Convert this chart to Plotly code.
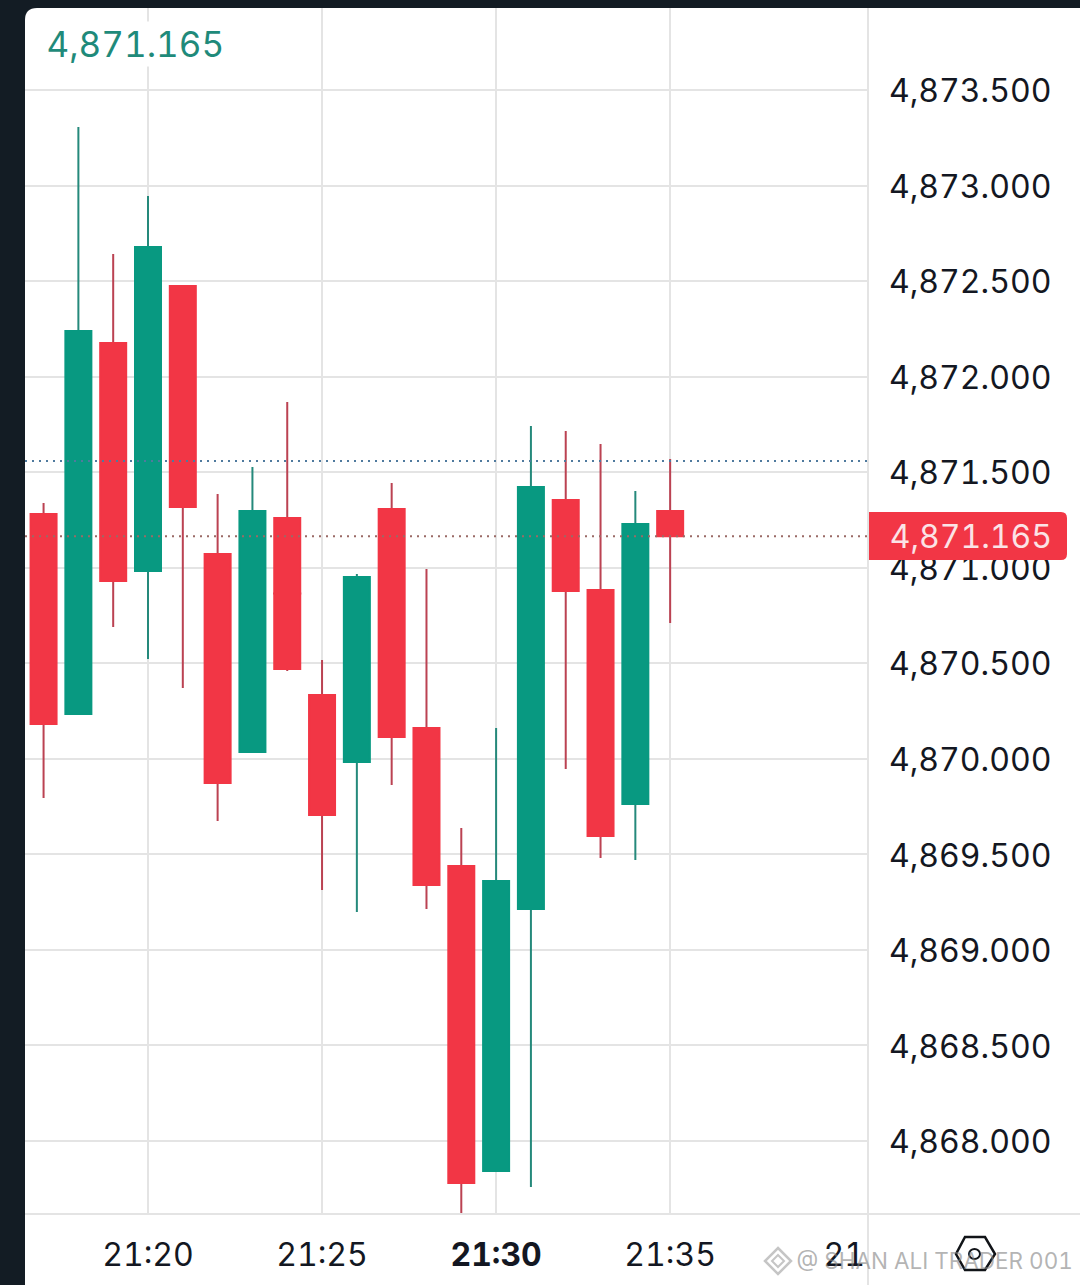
import plotly.graph_objects as go

times = ["21:17","21:18","21:19","21:20","21:21","21:22","21:23","21:24","21:25","21:26",
         "21:27","21:28","21:29","21:30","21:31","21:32","21:33","21:34","21:35"]
opens = [4871.281,4870.234,4872.176,4870.983,4872.474,4871.072,4870.036,4871.260,4870.334,4869.983,
         4871.307,4870.161,4869.439,4867.843,4869.214,4871.354,4870.883,4869.763,4871.297]
closes = [4870.182,4872.239,4870.930,4872.678,4871.318,4869.873,4871.297,4870.470,4869.706,4870.951,
          4870.114,4869.340,4867.780,4869.361,4871.422,4870.878,4869.596,4871.229,4871.165]
highs = [4871.339,4873.306,4872.642,4872.945,4872.474,4871.386,4871.527,4871.867,4870.517,4870.967,
         4871.443,4870.993,4869.638,4870.161,4871.742,4871.715,4871.647,4871.401,4871.569]
lows = [4869.795,4870.234,4870.690,4870.522,4870.370,4869.675,4870.036,4870.459,4869.313,4869.198,
        4869.863,4869.214,4867.623,4867.843,4867.759,4869.947,4869.481,4869.470,4870.711]
y_ticks = [4868.0,4868.5,4869.0,4869.5,4870.0,4870.5,4871.0,4871.5,4872.0,4872.5,4873.0,4873.5]
y_labels = ["4,868.000","4,868.500","4,869.000","4,869.500","4,870.000","4,870.500","4,871.000",
            "4,871.500","4,872.000","4,872.500","4,873.000","4,873.500"]
x_ticks = ["21:20","21:25","21:30","21:35"]
x_labels = ["21:20","21:25","<b>21:30</b>","21:35"]
last_price = 4871.165
prev_price = 4871.558

W, H = 1080, 1285
UP, DOWN = "#089981", "#f23645"
UP_WICK, DOWN_WICK = "#25897b", "#bb4252"
GRID = "#e4e4e4"
DARK = "#131c24"
FONT = "Inter, Roboto, sans-serif"

def d(t):
    return "2024-01-01 " + t + ":00"
def px(x):
    return x / W
def py(y):
    return 1 - y / H
def path(points, close=True):
    s = " ".join(("M" if i == 0 else "L") + f" {px(x):.5f},{py(y):.5f}" for i, (x, y) in enumerate(points))
    return s + (" Z" if close else "")

xs = [d(t) for t in times]
fig = go.Figure()
# wicks
fig.add_trace(go.Candlestick(
    x=xs, open=[(o + c) / 2 for o, c in zip(opens, closes)], close=[(o + c) / 2 + (1e-6 if c >= o else -1e-6) for o, c in zip(opens, closes)],
    high=highs, low=lows, whiskerwidth=0,
    increasing=dict(line=dict(color=UP_WICK, width=2), fillcolor=UP_WICK),
    decreasing=dict(line=dict(color=DOWN_WICK, width=2), fillcolor=DOWN_WICK),
    hoverinfo="skip", showlegend=False))
# bodies
fig.add_trace(go.Candlestick(
    x=xs, open=opens, close=closes,
    high=[max(o, c) for o, c in zip(opens, closes)], low=[min(o, c) for o, c in zip(opens, closes)],
    whiskerwidth=0,
    increasing=dict(line=dict(color=UP, width=2), fillcolor=UP),
    decreasing=dict(line=dict(color=DOWN, width=2), fillcolor=DOWN),
    showlegend=False))

DOT = "2px,5px"
shapes = [
    dict(type="path", xref="paper", yref="paper", layer="below", line=dict(width=0), fillcolor="#ffffff",
         path=f"M {px(25):.5f},{py(1285):.5f} L {px(25):.5f},{py(20):.5f} Q {px(25):.5f},{py(8):.5f} {px(37):.5f},{py(8):.5f} "
              f"L {px(1080):.5f},{py(8):.5f} L {px(1080):.5f},{py(1285):.5f} Z"),
    dict(type="line", xref="paper", yref="paper", layer="below", x0=px(868), x1=px(868), y0=py(8), y1=py(1285), line=dict(color=GRID, width=2)),
    dict(type="line", xref="paper", yref="paper", layer="below", x0=px(25), x1=px(1080), y0=py(1214), y1=py(1214), line=dict(color=GRID, width=2)),
    dict(type="line", xref="x domain", yref="y", x0=0, x1=1, y0=prev_price, y1=prev_price, layer="above", line=dict(color="#4f7a9e", width=2, dash=DOT)),
    dict(type="line", xref="x domain", yref="y", x0=0, x1=1, y0=last_price, y1=last_price, layer="above", line=dict(color="#9a6a66", width=2, dash=DOT)),
    dict(type="path", xref="paper", yref="paper", layer="above", line=dict(width=0), fillcolor=DOWN,
         path=f"M {px(869):.5f},{py(512):.5f} L {px(1061):.5f},{py(512):.5f} Q {px(1067):.5f},{py(512):.5f} {px(1067):.5f},{py(518):.5f} "
              f"L {px(1067):.5f},{py(554):.5f} Q {px(1067):.5f},{py(560):.5f} {px(1061):.5f},{py(560):.5f} L {px(869):.5f},{py(560):.5f} Z"),
    dict(type="path", xref="paper", yref="paper", layer="above", line=dict(color="#111418", width=2.5),
         path=path([(965, 1237), (985, 1237), (995, 1254), (985, 1270), (965, 1270), (956, 1254)])),
    dict(type="circle", xref="paper", yref="paper", layer="above", line=dict(color="#111418", width=2),
         x0=px(969), x1=px(980), y0=py(1259), y1=py(1249)),
    dict(type="path", xref="paper", yref="paper", layer="above", line=dict(color="rgba(150,150,150,0.55)", width=2.5),
         path=path([(778, 1248), (791, 1261), (778, 1274), (765, 1261)])),
    dict(type="path", xref="paper", yref="paper", layer="above", line=dict(color="rgba(150,150,150,0.55)", width=2),
         path=path([(778, 1255), (784, 1261), (778, 1267), (772, 1261)])),
]

annotations = [
    dict(text="4,871.165", xref="paper", yref="paper", x=px(135.5), y=py(44), xanchor="center", yanchor="middle",
         showarrow=False, bgcolor="#ffffff", borderpad=1, font=dict(family=FONT, size=35, color="#1f8a7a")),
    dict(text="4,871.165", xref="paper", yref="y", x=px(971), y=last_price, xanchor="center", yanchor="middle",
         showarrow=False, font=dict(family=FONT, size=32, color="#fbe3e6")),
    dict(text="21", xref="x", yref="paper", x=d("21:40"), y=py(1254), xanchor="center", yanchor="middle",
         showarrow=False, font=dict(family=FONT, size=32, color="#131722")),
    dict(text="@ SHAN ALI TRADER 001", xref="paper", yref="paper", x=px(797), y=py(1260), xanchor="left", yanchor="middle",
         showarrow=False, font=dict(family=FONT, size=22.5, color="rgba(130,130,130,0.6)")),
]

fig.update_layout(
    width=W, height=H, margin=dict(l=0, r=0, t=0, b=0), autosize=False,
    paper_bgcolor=DARK, plot_bgcolor="rgba(0,0,0,0)", showlegend=False, boxgap=0.253, boxgroupgap=0,
    shapes=shapes, annotations=annotations,
    xaxis=dict(type="date", domain=[px(25), px(868)], range=["2024-01-01 21:16:28", "2024-01-01 21:40:41"],
               rangeslider=dict(visible=False), tickmode="array", tickvals=[d(t) for t in x_ticks], ticktext=x_labels,
               showgrid=True, gridcolor=GRID, gridwidth=2, zeroline=False, showline=False, ticks="",
               ticklabelstandoff=19, tickfont=dict(family=FONT, size=32, color="#131722")),
    yaxis=dict(domain=[py(1214), py(8)], range=[4867.618, 4873.929], side="right",
               tickmode="array", tickvals=y_ticks, ticktext=y_labels,
               showgrid=True, gridcolor=GRID, gridwidth=2, zeroline=False, showline=False, ticks="",
               ticklabelstandoff=20, tickfont=dict(family=FONT, size=32, color="#131722")),
)
post = """
document.body.style.margin='0';document.body.style.overflow='hidden';
var st=document.createElement('style');
st.textContent='svg text{font-variant-numeric:tabular-nums;font-feature-settings:"tnum" 1;}';
document.head.appendChild(st);
document.querySelectorAll('.ytick text').forEach(function(t){t.setAttribute('dy','1');});
"""
fig.write_html("out.html", post_script=post, config=dict(displayModeBar=False))
